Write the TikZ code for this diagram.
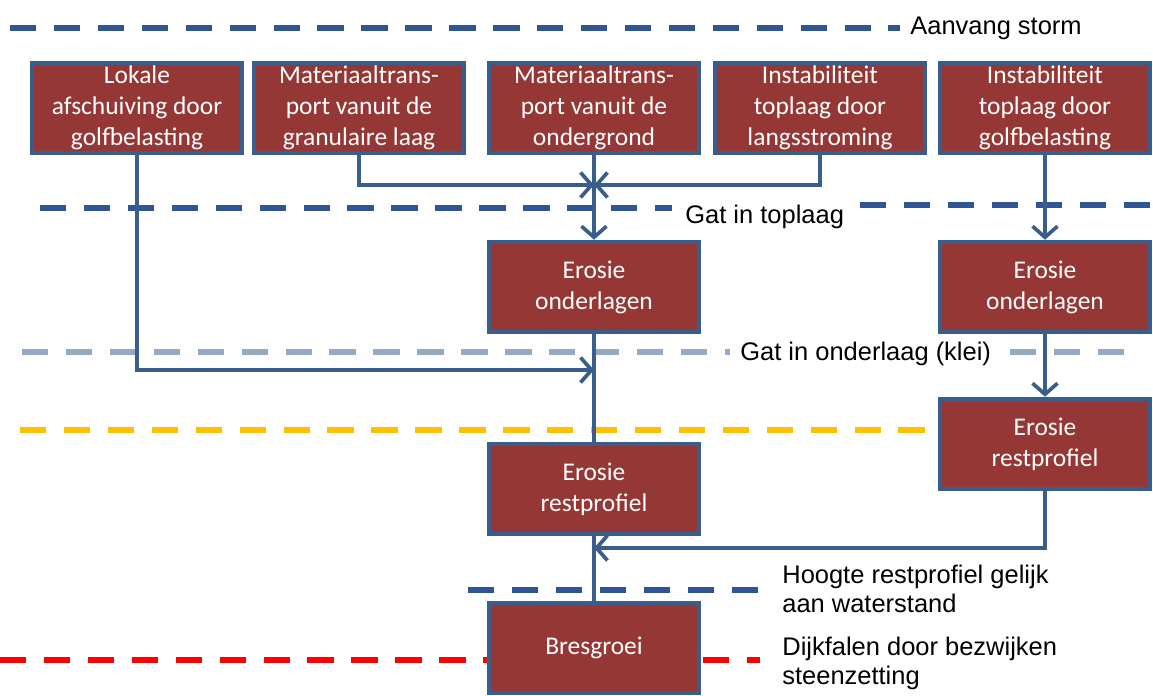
\documentclass[tikz,border=0pt]{standalone}
\usepackage{fontspec}
\setmainfont{Liberation Sans}
\newfontfamily\boxfont{Carlito}
\usepackage{tikz}
\usetikzlibrary{arrows.meta}

\definecolor{boxred}{HTML}{953735}
\definecolor{boxblue}{HTML}{3A5E8C}
\definecolor{stormblue}{HTML}{2F5597}
\definecolor{kleiblue}{HTML}{95A8C6}
\definecolor{dijkyellow}{HTML}{FFC000}
\definecolor{dijkred}{HTML}{FF0000}

\begin{document}
\begin{tikzpicture}[x=0.02cm,y=-0.02cm,
  box/.style={draw=boxblue,line width=2.6pt,fill=boxred,text=white,
    minimum width=4.2cm,minimum height=1.8cm,inner sep=1pt,align=center,
    font=\boxfont\fontsize{14.5}{17.6}\selectfont},
  arr/.style={draw=boxblue,line width=2.1pt,-{Straight Barb[length=2.2mm,width=5mm,line width=2.1pt]}},
  link/.style={draw=boxblue,line width=2.1pt},
  phase/.style={line width=3.3pt,dash pattern=on 15pt off 10pt},
  lbl/.style={anchor=west,inner sep=0pt,align=left,font=\fontsize{14.5}{16.5}\selectfont}]
\useasboundingbox (0,0) rectangle (1153,696);

% fasen
\draw[phase,stormblue] (10,28) -- (900,28);
\node[lbl] (storm) at (910,28) {Aanvang storm};
\draw[phase,stormblue] (40,208) -- (672,208);
\draw[phase,stormblue] (860,205) -- (1150,205);
\node[lbl] (toplaag) at (685,217) {Gat in toplaag};
\draw[phase,kleiblue] (22,352) -- (730,352);
\draw[phase,kleiblue] (1010,352) -- (1140,352);
\node[lbl] (klei) at (740,354) {Gat in onderlaag (klei)};
\draw[phase,dijkyellow] (20,430) -- (940,430);
\draw[phase,stormblue] (468,590) -- (760,590);
\node[lbl,anchor=north west] (water) at (782,565) {Hoogte restprofiel gelijk\\aan waterstand};
\draw[phase,dijkred] (0,660) -- (760,660);
\node[lbl,anchor=north west] (falen) at (782,637) {Dijkfalen door bezwijken\\steenzetting};

% mechanismen
\node[box] (lokaal) at (137,108) {Lokale\\afschuiving door\\golfbelasting};
\node[box] (gran) at (359,108) {Materiaaltrans-\\port vanuit de\\granulaire laag};
\node[box] (ondergr) at (594,108) {Materiaaltrans-\\port vanuit de\\ondergrond};
\node[box] (langs) at (820,108) {Instabiliteit\\toplaag door\\langsstroming};
\node[box] (golf) at (1045,108) {Instabiliteit\\toplaag door\\golfbelasting};

\node[box] (onderL) at (594,287) {Erosie\\onderlagen};
\node[box] (onderR) at (1045,287) {Erosie\\onderlagen};
\node[box] (restL) at (594,489) {Erosie\\restprofiel};
\node[box] (restR) at (1045,444) {Erosie\\restprofiel};
\node[box] (bres) at (594,648) {Bresgroei};

\coordinate (jtop) at (594,185);
\coordinate (jklei) at (594,370);
\coordinate (jrest) at (594,548);

% verbindingen
\draw[arr] (gran.south) |- (jtop);
\draw[arr] (langs.south) |- (jtop);
\draw[arr] (ondergr.south) -- (onderL.north);
\draw[arr] (lokaal.south) |- (jklei);
\draw[link] (onderL.south) -- (restL.north);
\draw[arr] (golf.south) -- (onderR.north);
\draw[arr] (onderR.south) -- (restR.north);
\draw[arr] (restR.south) |- (jrest);
\draw[link] (restL.south) -- (bres.north);
\end{tikzpicture}
\end{document}
